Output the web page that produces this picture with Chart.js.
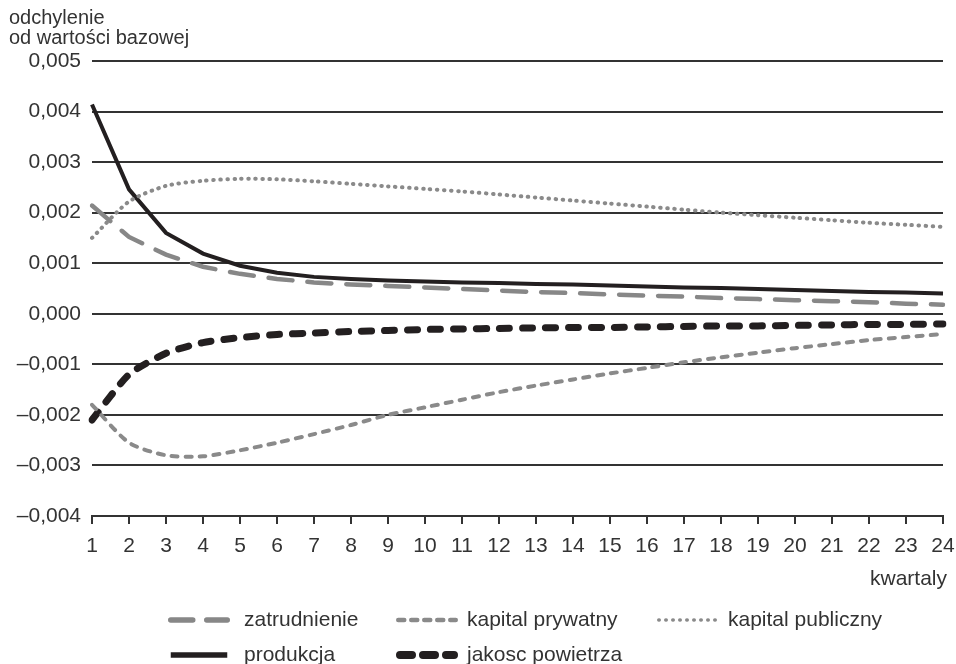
<!DOCTYPE html>
<html>
<head>
<meta charset="utf-8">
<script src="https://cdn.jsdelivr.net/npm/chart.js@4"></script>
<style>
  html, body { margin: 0; padding: 0; background: #fff; }
  #wrap { width: 956px; height: 664px; position: relative; }
</style>
</head>
<body>
<div id="wrap"><canvas id="chart"></canvas></div>
<script>
// DATA
const kwartaly = ['1','2','3','4','5','6','7','8','9','10','11','12','13','14','15','16','17','18','19','20','21','22','23','24'];
const zatrudnienie = [0.00214, 0.00152, 0.00117, 0.00093, 0.00079, 0.00069, 0.00062, 0.00058, 0.00055, 0.00052, 0.00049, 0.00046, 0.00043, 0.00041, 0.00038, 0.00036, 0.00034, 0.00031, 0.00029, 0.00027, 0.00025, 0.00023, 0.00020, 0.00018];
const kapitalPrywatny = [-0.0018, -0.00255, -0.0028, -0.00282, -0.0027, -0.00255, -0.00238, -0.0022, -0.002, -0.00185, -0.0017, -0.00155, -0.00142, -0.0013, -0.00118, -0.00107, -0.00096, -0.00086, -0.00077, -0.00068, -0.0006, -0.00052, -0.00046, -0.0004];
const kapitalPubliczny = [0.0015, 0.00222, 0.00253, 0.00263, 0.00267, 0.00266, 0.00262, 0.00257, 0.00252, 0.00247, 0.00242, 0.00236, 0.0023, 0.00224, 0.00218, 0.00212, 0.00206, 0.002, 0.00195, 0.0019, 0.00185, 0.0018, 0.00176, 0.00172];
const produkcja = [0.00414, 0.00246, 0.0016, 0.00119, 0.00095, 0.00081, 0.00073, 0.00069, 0.00066, 0.00064, 0.00062, 0.00061, 0.00059, 0.00058, 0.00056, 0.00054, 0.00052, 0.00051, 0.00049, 0.00047, 0.00045, 0.00043, 0.00042, 0.0004];
const jakoscPowietrza = [-0.0021, -0.0012, -0.00078, -0.00057, -0.00047, -0.00041, -0.00038, -0.00035, -0.00033, -0.00031, -0.0003, -0.00029, -0.00028, -0.00027, -0.00027, -0.00026, -0.00025, -0.00024, -0.00024, -0.00023, -0.00022, -0.00021, -0.00021, -0.0002];
const yTicks = [-0.004, -0.003, -0.002, -0.001, 0, 0.001, 0.002, 0.003, 0.004, 0.005];

const FONT = "'Liberation Sans', Arial, sans-serif";
const TXT = '#333333';

const fmt = (v) => {
  let s = Math.abs(v).toFixed(3).replace('.', ',');
  return (v < -1e-9 ? '\u2013' : '') + s;
};

// legend slots (column / row placement)
const legendSlots = [
  {lx: 168, tx: 244, y: 620},
  {lx: 396, tx: 467, y: 620},
  {lx: 657, tx: 728, y: 620},
  {lx: 168, tx: 244, y: 655},
  {lx: 396, tx: 467, y: 655}
];

const extraText = {
  id: 'extraText',
  afterDraw(chart) {
    const c = chart.ctx;
    c.save();
    c.fillStyle = TXT;
    c.textBaseline = 'middle';
    c.font = '20px ' + FONT;
    c.textAlign = 'left';
    c.fillText('odchylenie', 9, 18);
    c.fillText('od wartości bazowej', 9, 38);
    c.font = '21px ' + FONT;
    c.textAlign = 'right';
    c.fillText('kwartaly', 947, 579);

    // legend
    c.textAlign = 'left';
    chart.data.datasets.forEach((ds, i) => {
      const s = legendSlots[i];
      c.save();
      c.strokeStyle = ds.borderColor;
      c.lineWidth = ds.legendWidth;
      c.lineCap = ds.borderCapStyle || 'butt';
      c.setLineDash(ds.legendDash || []);
      c.beginPath();
      c.moveTo(s.lx + c.lineWidth / 2, s.y);
      c.lineTo(s.lx + 62 - c.lineWidth / 2, s.y);
      c.stroke();
      c.restore();
      c.fillStyle = TXT;
      c.font = '21px ' + FONT;
      c.fillText(ds.label, s.tx, s.y);
    });
    c.restore();
  }
};

const ctx = document.getElementById('chart');

new Chart(ctx, {
  type: 'line',
  data: {
    labels: kwartaly,
    datasets: [
      {
        label: 'zatrudnienie', data: zatrudnienie,
        borderColor: '#878787', borderWidth: 4.5, borderDash: [24, 15], borderCapStyle: 'round',
        legendWidth: 5.5, legendDash: [22, 14]
      },
      {
        label: 'kapital prywatny', data: kapitalPrywatny, tension: 0.25,
        borderColor: '#8a8a8a', borderWidth: 4, borderDash: [6, 8], borderCapStyle: 'round',
        legendWidth: 4.5, legendDash: [6, 7]
      },
      {
        label: 'kapital publiczny', data: kapitalPubliczny, tension: 0.25,
        borderColor: '#8a8a8a', borderWidth: 4, borderDash: [0.5, 6.5], borderCapStyle: 'round',
        legendWidth: 3.5, legendDash: [0.5, 6.5]
      },
      {
        label: 'produkcja', data: produkcja,
        borderColor: '#231f20', borderWidth: 4, borderCapStyle: 'butt',
        legendWidth: 5.5, legendDash: []
      },
      {
        label: 'jakosc powietrza', data: jakoscPowietrza, tension: 0.2,
        borderColor: '#231f20', borderWidth: 7, borderDash: [10, 13], borderCapStyle: 'round',
        legendWidth: 8, legendDash: [12, 11]
      }
    ]
  },
  options: {
    responsive: true,
    maintainAspectRatio: false,
    animation: false,
    layout: { padding: { top: 61, right: 13, left: 0, bottom: 0 } },
    elements: {
      point: { radius: 0 },
      line: { tension: 0, fill: false }
    },
    plugins: {
      legend: { display: false },
      tooltip: { enabled: false }
    },
    scales: {
      x: {
        offset: false,
        grid: { drawOnChartArea: false, drawTicks: true, tickLength: 8, color: '#333', lineWidth: 2 },
        border: { display: true, color: '#333', width: 2 },
        ticks: { color: TXT, font: { family: FONT, size: 21 }, padding: 10, maxRotation: 0, autoSkip: false },
        afterFit(scale) {
          scale.height = 148;
          scale.paddingLeft = 0;
          scale.paddingRight = 0;
        }
      },
      y: {
        min: -0.004,
        max: 0.005,
        afterBuildTicks(scale) { scale.ticks = yTicks.map(v => ({value: v})); },
        grid: { color: '#333', lineWidth: 2, drawTicks: false },
        border: { display: false },
        ticks: {
          color: TXT, font: { family: FONT, size: 21 }, padding: 11,
          callback: (v) => fmt(v)
        },
        afterFit(scale) { scale.width = 92; }
      }
    }
  },
  plugins: [extraText]
});
</script>
</body>
</html>
